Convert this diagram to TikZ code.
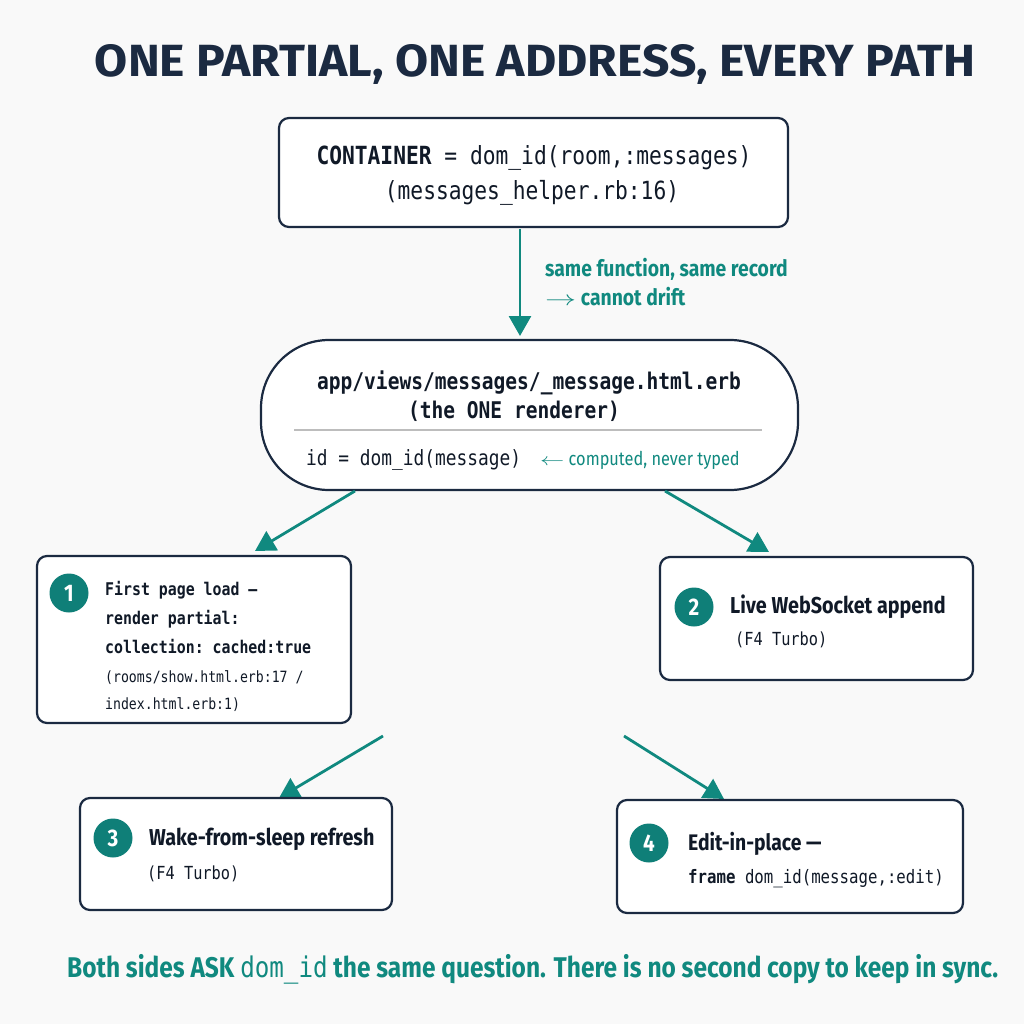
\documentclass[tikz,border=0pt]{standalone}
\usepackage{fontspec}
\usepackage{graphicx}
\usetikzlibrary{arrows.meta}
\setmainfont[FakeStretch=0.86]{Fira Sans}
\setmonofont[FakeStretch=0.85]{DejaVu Sans Mono}
\newfontfamily\titlefont{Fira Sans}
\definecolor{navy}{HTML}{1B2A41}
\definecolor{teal}{HTML}{10897F}
\definecolor{circ}{HTML}{0F7F78}
\definecolor{rule}{HTML}{BDBDBD}
\definecolor{bgc}{HTML}{F9F9F9}
\newcommand{\rarr}{\scalebox{1.5}[1]{$\rightarrow$}}
\newcommand{\larr}{\scalebox{1.4}[1]{$\leftarrow$}}
\tikzset{
  card/.style={draw=navy, line width=2.2pt, fill=white, rounded corners=10pt, inner sep=0pt},
  pill/.style={draw=navy, line width=2.2pt, fill=white, rounded corners=68pt, inner sep=0pt},
  arr/.style={draw=teal, line width=2.8pt, -{Triangle[length=20pt,width=22pt]}},
  txt/.style={inner sep=0pt, anchor=base west, text=navy!60!black},
  ctxt/.style={inner sep=0pt, anchor=base, text=navy!60!black},
  badge/.style={circle, fill=circ, minimum size=39pt, inner sep=0pt, text=white, font=\fontsize{24}{24}\selectfont\bfseries},
  note/.style={inner sep=0pt, anchor=base west, text=teal}
}
\begin{document}
\begin{tikzpicture}[x=1pt,y=-1pt]
\fill[bgc] (0,0) rectangle (1024,1024);
\useasboundingbox (0,0) rectangle (1024,1024);

% title
\node[ctxt, text=navy] (title) at (535,77) {\resizebox{880pt}{32pt}{\titlefont\bfseries ONE PARTIAL, ONE ADDRESS, EVERY PATH}};

% top box
\node[card, minimum width=509pt, minimum height=109pt] (top) at (533.5,172.5) {};
\node[ctxt, font=\fontsize{25}{25}\ttfamily] (topl1) at (534,165) {\textbf{CONTAINER} = dom\_id(room,:messages)};
\node[ctxt, font=\fontsize{25}{25}\ttfamily] (topl2) at (532,200) {(messages\_helper.rb:16)};

% arrow 1
\coordinate (a1s) at (520,229);
\coordinate (a1e) at (520,336);
\draw[arr] (a1s) -- (a1e);
\node[note, font=\fontsize{22.5}{22.5}\selectfont\bfseries] (n1) at (545,276) {same function, same record};
\node[note, font=\fontsize{22.5}{22.5}\selectfont\bfseries] (n2) at (545,305) {\rarr\ cannot drift};

% middle pill
\node[pill, minimum width=537pt, minimum height=150pt] (mid) at (529.5,415) {};
\node[ctxt, font=\fontsize{23}{23}\ttfamily\bfseries] (midl1) at (529,389) {app/views/messages/\_message.html.erb};
\node[ctxt, font=\fontsize{23}{23}\ttfamily\bfseries] (midl2) at (514,418) {(the ONE renderer)};
\coordinate (r1) at (294,430);
\coordinate (r2) at (762,430);
\draw[rule, line width=1.2pt] (r1) -- (r2);
\node[txt, font=\fontsize{21}{21}\ttfamily] (midl3) at (306,465) {id = dom\_id(message)};
\node[note, font=\fontsize{19}{19}\selectfont] (midn) at (540,465) {\larr\ computed, never typed};

% arrows from middle
\coordinate (a2s) at (355,491);
\coordinate (a2e) at (255,551);
\coordinate (a3s) at (665,491);
\coordinate (a3e) at (769,552);
\draw[arr] (a2s) -- (a2e);
\draw[arr] (a3s) -- (a3e);

% box 1
\node[card, minimum width=314pt, minimum height=167pt] (b1) at (194,639.5) {};
\node[badge] (c1) at (69,593) {1};
\node[txt, font=\fontsize{17.5}{17.5}\ttfamily\bfseries] (b1l1) at (105,595) {First page load —};
\node[txt, font=\fontsize{17.5}{17.5}\ttfamily\bfseries] (b1l2) at (105,624) {render partial:};
\node[txt, font=\fontsize{17.5}{17.5}\ttfamily\bfseries] (b1l3) at (105,653) {collection: cached:true};
\node[txt, font=\fontsize{15.5}{15.5}\ttfamily] (b1l4) at (105,682) {(rooms/show.html.erb:17 /};
\node[txt, font=\fontsize{15.5}{15.5}\ttfamily] (b1l5) at (105,709) {index.html.erb:1)};

% box 2
\node[card, minimum width=313pt, minimum height=123pt] (b2) at (816.5,618.5) {};
\node[badge] (c2) at (694,607) {2};
\node[txt, font=\fontsize{23}{23}\selectfont\bfseries] (b2l1) at (730,613) {Live WebSocket append};
\node[txt, font=\fontsize{18}{18}\ttfamily] (b2l2) at (735,645) {(F4 Turbo)};

% arrows lower
\coordinate (a4s) at (383,736);
\coordinate (a4e) at (279,798);
\coordinate (a5s) at (624,736);
\coordinate (a5e) at (724,799);
\draw[arr] (a4s) -- (a4e);
\draw[arr] (a5s) -- (a5e);

% box 3
\node[card, minimum width=312pt, minimum height=112pt] (b3) at (236,854) {};
\node[badge] (c3) at (113,838) {3};
\node[txt, font=\fontsize{23}{23}\selectfont\bfseries] (b3l1) at (149,845) {Wake-from-sleep refresh};
\node[txt, font=\fontsize{18}{18}\ttfamily] (b3l2) at (147,879) {(F4 Turbo)};

% box 4
\node[card, minimum width=346pt, minimum height=113pt] (b4) at (790,856.5) {};
\node[badge] (c4) at (649,843) {4};
\node[txt, font=\fontsize{22.5}{22.5}\selectfont\bfseries] (b4l1) at (688,850) {Edit-in-place —};
\node[txt, font=\fontsize{18.5}{18.5}\ttfamily] (b4l2) at (688,883) {\textbf{frame} dom\_id(message,:edit)};

% footer
\node[inner sep=0pt, anchor=base west, text=teal] (foot) at (67,977) {\resizebox{931pt}{!}{\fontsize{24}{24}\selectfont\bfseries Both sides ASK {\mdseries\ttfamily dom\_id} the same question. There is no second copy to keep in sync.}};
\end{tikzpicture}
\end{document}
